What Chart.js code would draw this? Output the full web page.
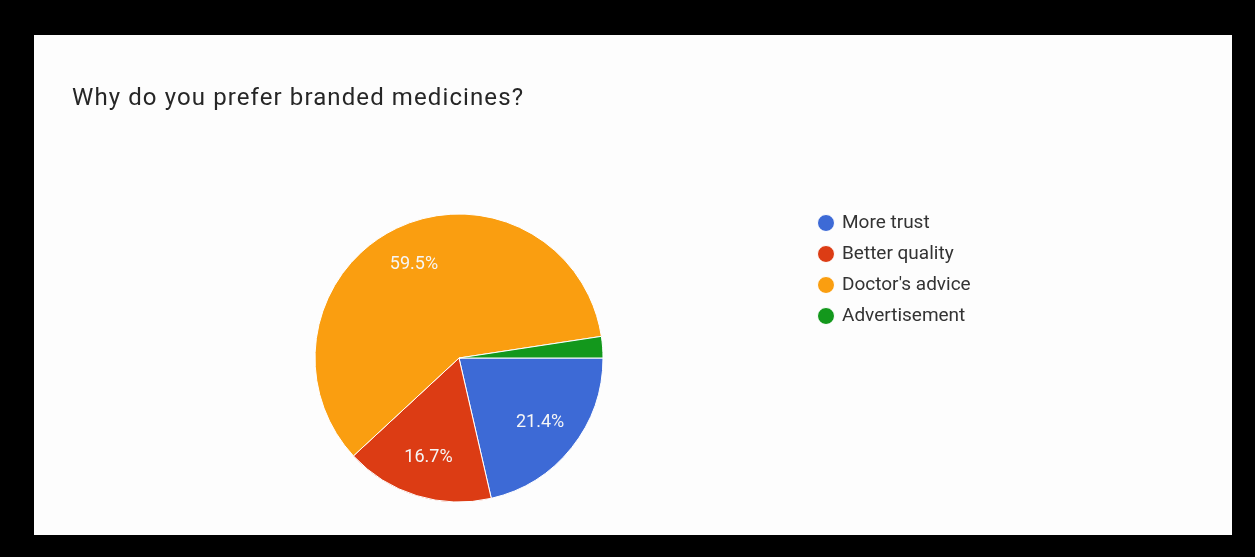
<!DOCTYPE html>
<html>
<head>
<meta charset="utf-8">
<script src="https://cdn.jsdelivr.net/npm/chart.js@4"></script>
<style>
  html, body { margin: 0; padding: 0; background: #000; }
  body { width: 1255px; height: 557px; position: relative; overflow: hidden; }
  .card { position: absolute; left: 34px; top: 35px; width: 1198px; height: 500px; background: #fdfdfd; }
  .card h2 {
    position: absolute; left: 38px; top: 48px; margin: 0;
    font: 400 24px/28px Roboto, "Noto Sans", sans-serif; color: #262626; letter-spacing: 1.1px;
    white-space: nowrap;
  }
  #pie { position: absolute; left: 0; top: 0; }
</style>
</head>
<body>
<div class="card">
  <canvas id="pie" width="1198" height="500"></canvas>
  <h2>Why do you prefer branded medicines?</h2>
</div>
<script>
// Respostas da pergunta
const respostas = ['More trust', 'Better quality', "Doctor's advice", 'Advertisement'];
const percentuais = [21.4, 16.7, 59.5, 2.4];
const cores = ['#3d6ad6', '#dc3c14', '#fa9e10', '#13981c'];

const fonte = 'Roboto, "Noto Sans", sans-serif';
const tamLegenda = 19;

// Largura da legenda, para deixar a pizza no lugar certo
let medidor = document.createElement('canvas').getContext('2d');
medidor.font = tamLegenda + 'px ' + fonte;
let maiorTexto = Math.max(...respostas.map(t => medidor.measureText(t).width));
let larguraLegenda = 12 + 13 + tamLegenda / 2 + maiorTexto + 10;
let direitaPizza = 773.5;

// Escreve a porcentagem dentro de cada fatia (fatias pequenas ficam sem texto)
const rotulosFatias = {
    id: 'rotulosFatias',
    afterDatasetsDraw(chart) {
        const ctx = chart.ctx;
        const meta = chart.getDatasetMeta(0);
        ctx.save();
        ctx.font = '18px ' + fonte;
        ctx.fillStyle = '#f6f6f6';
        ctx.textAlign = 'center';
        ctx.textBaseline = 'middle';
        meta.data.forEach((arc, i) => {
            let valor = percentuais[i];
            if (valor < 5) return;
            let p = arc.getProps(['x', 'y', 'startAngle', 'endAngle', 'outerRadius']);
            let meio = (p.startAngle + p.endAngle) / 2;
            let r = p.outerRadius * 0.72;
            ctx.fillText(valor.toFixed(1) + '%', p.x + Math.cos(meio) * r, p.y + Math.sin(meio) * r);
        });
        ctx.restore();
    }
};

let ctx = document.getElementById('pie').getContext('2d');
let pieChart = new Chart(ctx, {
    type: 'pie',
    data: {
        labels: respostas,
        datasets: [{
            data: percentuais,
            backgroundColor: cores,
            borderColor: '#ffffff',
            borderWidth: 1,
            radius: 144
        }]
    },
    options: {
        responsive: false,
        animation: false,
        rotation: 90,
        layout: {
            padding: { top: 166.5, bottom: 20.5, left: 76.5, right: 1198 - direitaPizza - larguraLegenda }
        },
        plugins: {
            tooltip: { enabled: false },
            title: { display: false },
            legend: {
                position: 'right',
                align: 'start',
                labels: {
                    usePointStyle: true,
                    pointStyle: 'circle',
                    boxWidth: 13,
                    boxHeight: 12,
                    padding: 12,
                    color: '#333333',
                    font: { family: fonte, size: tamLegenda }
                }
            }
        }
    },
    plugins: [rotulosFatias]
});
</script>
</body>
</html>
